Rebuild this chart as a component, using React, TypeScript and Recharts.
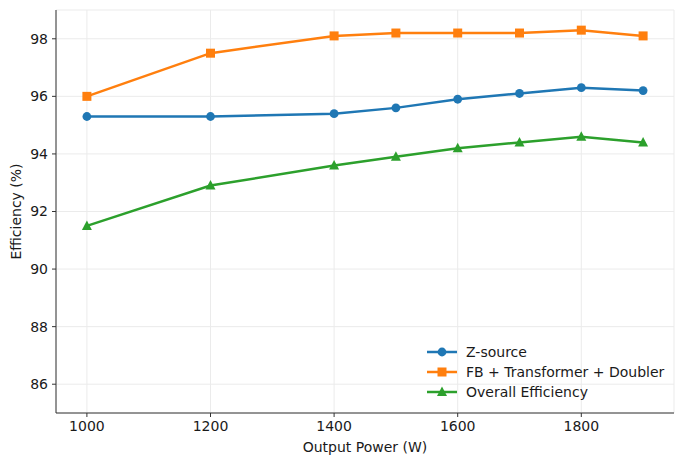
import React from "react";
import {
  CartesianGrid,
  Line,
  LineChart,
  XAxis,
  YAxis,
} from "recharts";

const powers = [1000, 1200, 1400, 1500, 1600, 1700, 1800, 1900];
const zSource = [95.3, 95.3, 95.4, 95.6, 95.9, 96.1, 96.3, 96.2];
const fbChain = [96.0, 97.5, 98.1, 98.2, 98.2, 98.2, 98.3, 98.1];
const overall = [91.5, 92.9, 93.6, 93.9, 94.2, 94.4, 94.6, 94.4];

const xTicks = [1000, 1200, 1400, 1600, 1800];
const yTicks = [86, 88, 90, 92, 94, 96, 98];

const BLUE = "#1f77b4";
const ORANGE = "#ff7f0e";
const GREEN = "#2ca02c";
const FONT = "'DejaVu Sans', sans-serif";
const FS = 14;
const INK = "#1a1a1a";

const data = powers.map((p, i) => ({
  p,
  z: zSource[i],
  fb: fbChain[i],
  all: overall[i],
}));

const TICK = { fontSize: FS, fill: INK, fontFamily: FONT };

type Shape = "circle" | "square" | "triangle";

function Marker({ cx, cy, shape, color }: { cx: number; cy: number; shape: Shape; color: string }) {
  if (shape === "circle") return <circle cx={cx} cy={cy} r={4.4} fill={color} />;
  if (shape === "square")
    return <rect x={cx - 4.5} y={cy - 4.5} width={9} height={9} fill={color} />;
  return (
    <polygon
      points={`${cx},${cy - 5.5} ${cx - 5},${cy + 4} ${cx + 5},${cy + 4}`}
      fill={color}
    />
  );
}

const dotFor = (shape: Shape, color: string) => (props: any) =>
  <Marker key={`${shape}-${props.index}`} cx={props.cx} cy={props.cy} shape={shape} color={color} />;

const legendItems: Array<{ label: string; color: string; shape: Shape }> = [
  { label: "Z-source", color: BLUE, shape: "circle" },
  { label: "FB + Transformer + Doubler", color: ORANGE, shape: "square" },
  { label: "Overall Efficiency", color: GREEN, shape: "triangle" },
];

function LegendBox() {
  return (
    <svg
      width={250}
      height={64}
      style={{ position: "absolute", left: 427, top: 342 }}
    >
      {legendItems.map((it, i) => {
        const y = 10 + i * 20;
        return (
          <g key={it.label}>
            <line x1={0} x2={30} y1={y} y2={y} stroke={it.color} strokeWidth={2.5} />
            <Marker cx={15} cy={y} shape={it.shape} color={it.color} />
            <text x={39} y={y + 5} fontSize={FS} fill={INK} fontFamily={FONT}>
              {it.label}
            </text>
          </g>
        );
      })}
    </svg>
  );
}

export default function App() {
  return (
    <div style={{ position: "fixed", left: 0, top: 0, width: 684, height: 464, background: "#fff" }}>
      <LineChart
        width={684}
        height={464}
        data={data}
        margin={{ top: 10, right: 10, bottom: 0, left: 0 }}
      >
        <CartesianGrid stroke="#ebebeb" strokeWidth={1} />
        <XAxis
          dataKey="p"
          type="number"
          domain={[950, 1950]}
          ticks={xTicks}
          allowDataOverflow
          height={51}
          tick={TICK}
          tickSize={4}
          tickMargin={4}
          stroke="#333"
          label={{
            value: "Output Power (W)",
            position: "insideBottom",
            offset: 12,
            fontSize: FS,
            fill: INK,
            fontFamily: FONT,
          }}
        />
        <YAxis
          type="number"
          domain={[85, 99]}
          ticks={yTicks}
          allowDataOverflow
          width={56}
          tick={TICK}
          tickSize={4}
          tickMargin={4}
          stroke="#333"
          label={{
            value: "Efficiency (%)",
            angle: -90,
            position: "insideLeft",
            offset: 16,
            style: { textAnchor: "middle" },
            fontSize: FS,
            fill: INK,
            fontFamily: FONT,
          }}
        />
        <Line
          dataKey="z"
          stroke={BLUE}
          strokeWidth={2.5}
          dot={dotFor("circle", BLUE)}
          activeDot={false}
          isAnimationActive={false}
        />
        <Line
          dataKey="fb"
          stroke={ORANGE}
          strokeWidth={2.5}
          dot={dotFor("square", ORANGE)}
          activeDot={false}
          isAnimationActive={false}
        />
        <Line
          dataKey="all"
          stroke={GREEN}
          strokeWidth={2.5}
          dot={dotFor("triangle", GREEN)}
          activeDot={false}
          isAnimationActive={false}
        />
      </LineChart>
      <LegendBox />
    </div>
  );
}
